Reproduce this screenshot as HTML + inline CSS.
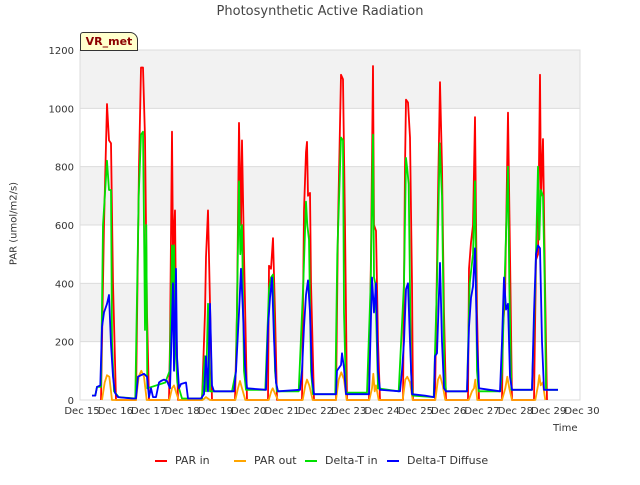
<!DOCTYPE html>
<html><head><meta charset="utf-8"><style>
body{margin:0;background:#fff;font-family:"Liberation Sans","DejaVu Sans",sans-serif}
svg text{font-family:"DejaVu Sans","Liberation Sans",sans-serif}
</style></head><body>
<svg id="c" width="640" height="480" xmlns="http://www.w3.org/2000/svg"></svg>
<script>
const yTicks=[0,200,400,600,800,1000,1200];
const xTickDays=[15,16,17,18,19,20,21,22,23,24,25,26,27,28,29,30];
const xTickLabels=["Dec 15","Dec 16","Dec 17","Dec 18","Dec 19","Dec 20","Dec 21","Dec 22","Dec 23","Dec 24","Dec 25","Dec 26","Dec 27","Dec 28","Dec 29","Dec 30"];
const parIn=[[15.57,0],[15.66,600],[15.75,1015],[15.81,890],[15.87,880],[15.93,400],[16.02,0],[16.62,0],[16.71,800],[16.77,1140],[16.83,1140],[16.89,900],[16.95,300],[17.01,0],[17.61,0],[17.64,200],[17.70,920],[17.73,500],[17.79,650],[17.82,300],[17.88,0],[18.60,0],[18.69,300],[18.72,490],[18.78,650],[18.84,330],[18.90,0],[19.59,0],[19.65,300],[19.71,950],[19.77,600],[19.80,890],[19.86,500],[19.95,0],[20.58,0],[20.61,460],[20.67,450],[20.73,555],[20.79,300],[20.85,0],[21.60,0],[21.66,650],[21.72,850],[21.75,885],[21.78,700],[21.84,710],[21.87,400],[21.96,0],[22.62,0],[22.68,600],[22.77,1115],[22.83,1100],[22.89,600],[22.95,0],[23.61,0],[23.67,500],[23.73,1145],[23.76,600],[23.82,580],[23.88,200],[23.94,0],[24.63,0],[24.69,800],[24.72,1030],[24.78,1020],[24.84,900],[24.90,400],[24.93,0],[25.59,0],[25.68,700],[25.74,1090],[25.80,800],[25.86,300],[25.92,0],[26.58,0],[26.61,450],[26.67,540],[26.73,600],[26.79,970],[26.85,300],[26.91,0],[27.60,0],[27.63,250],[27.69,350],[27.78,985],[27.84,500],[27.90,0],[28.56,0],[28.62,480],[28.68,500],[28.74,1115],[28.77,700],[28.83,895],[28.89,400],[28.95,0]];
const parOut=[[15.6,0],[15.68,60],[15.75,85],[15.82,80],[15.9,0],[16.62,0],[16.7,80],[16.78,100],[16.86,80],[16.94,0],[17.62,0],[17.7,40],[17.76,50],[17.84,20],[17.9,0],[18.62,0],[18.72,10],[18.84,0],[19.6,0],[19.68,40],[19.74,65],[19.8,40],[19.9,0],[20.6,0],[20.68,30],[20.72,40],[20.8,20],[20.88,0],[21.62,0],[21.7,50],[21.75,70],[21.82,50],[21.92,0],[22.62,0],[22.7,70],[22.78,95],[22.86,70],[22.94,0],[23.62,0],[23.7,40],[23.74,90],[23.78,30],[23.82,50],[23.9,0],[24.62,0],[24.7,70],[24.76,80],[24.84,60],[24.92,0],[25.6,0],[25.68,70],[25.74,85],[25.82,50],[25.9,0],[26.6,0],[26.7,30],[26.76,40],[26.8,70],[26.86,0],[27.6,0],[27.7,40],[27.76,80],[27.82,40],[27.9,0],[28.6,0],[28.68,50],[28.72,85],[28.76,50],[28.82,60],[28.9,0]];
const dtIn=[[15.3,15],[15.4,15],[15.45,45],[15.57,45],[15.63,600],[15.75,820],[15.81,720],[15.87,720],[15.9,200],[15.96,30],[16.1,10],[16.6,5],[16.7,700],[16.77,910],[16.83,920],[16.87,500],[16.89,240],[16.93,600],[16.96,40],[17.5,60],[17.63,100],[17.70,530],[17.73,300],[17.76,530],[17.8,200],[17.86,60],[18.0,5],[18.6,5],[18.68,150],[18.72,30],[18.78,330],[18.84,30],[19.5,30],[19.62,100],[19.71,750],[19.75,500],[19.8,600],[19.86,100],[19.92,35],[20.5,35],[20.61,380],[20.67,420],[20.73,430],[20.79,100],[20.85,30],[21.5,30],[21.64,400],[21.72,680],[21.76,600],[21.81,550],[21.87,100],[21.93,20],[22.6,20],[22.66,500],[22.77,900],[22.83,890],[22.86,300],[22.92,25],[23.55,25],[23.66,400],[23.73,910],[23.76,420],[23.8,400],[23.88,40],[24.5,30],[24.66,400],[24.72,830],[24.76,790],[24.8,740],[24.87,100],[24.92,15],[25.55,10],[25.65,400],[25.73,880],[25.8,700],[25.87,100],[25.92,30],[26.55,30],[26.63,400],[26.73,500],[26.79,750],[26.85,100],[26.9,30],[27.55,30],[27.6,100],[27.69,450],[27.78,800],[27.82,400],[27.88,35],[28.5,35],[28.6,400],[28.68,800],[28.72,550],[28.76,720],[28.83,700],[28.88,400],[28.92,35],[29.28,35]];
const dtDiff=[[15.3,15],[15.4,15],[15.45,45],[15.55,50],[15.6,250],[15.66,300],[15.75,330],[15.81,360],[15.87,190],[15.93,80],[15.99,25],[16.08,10],[16.5,5],[16.62,5],[16.68,80],[16.77,85],[16.86,90],[16.95,80],[17.01,10],[17.07,40],[17.13,10],[17.22,10],[17.31,60],[17.37,65],[17.46,70],[17.55,65],[17.64,40],[17.67,150],[17.73,400],[17.76,100],[17.82,450],[17.85,150],[17.91,40],[17.97,55],[18.12,60],[18.18,5],[18.57,5],[18.66,20],[18.72,150],[18.78,30],[18.84,330],[18.9,50],[18.96,30],[19.56,30],[19.62,100],[19.71,300],[19.77,450],[19.83,300],[19.89,120],[19.95,40],[20.52,35],[20.58,250],[20.64,350],[20.7,420],[20.76,210],[20.82,60],[20.88,30],[21.54,35],[21.6,100],[21.66,250],[21.72,360],[21.78,410],[21.84,300],[21.9,80],[21.96,20],[22.62,20],[22.65,100],[22.71,110],[22.77,120],[22.8,160],[22.86,110],[22.92,20],[23.61,20],[23.64,150],[23.7,420],[23.76,300],[23.82,400],[23.88,100],[23.94,35],[24.54,30],[24.6,100],[24.66,200],[24.72,380],[24.78,400],[24.84,200],[24.9,20],[25.29,15],[25.56,10],[25.59,150],[25.65,160],[25.74,470],[25.8,200],[25.86,40],[25.92,30],[26.55,30],[26.61,250],[26.67,350],[26.73,390],[26.79,520],[26.85,200],[26.91,40],[27.54,30],[27.6,200],[27.66,420],[27.72,310],[27.78,330],[27.84,80],[27.9,35],[28.5,35],[28.56,300],[28.62,500],[28.68,530],[28.74,520],[28.8,200],[28.86,35],[29.28,35]];

const NS="http://www.w3.org/2000/svg";
const svg=document.getElementById('c');
const L=80,R=580,T=50,B=400;
const xs=d=>82+(d-15)*(500/15);
const ys=v=>B-(v/1200)*(B-T);
function mk(tag,attrs,parent){const e=document.createElementNS(NS,tag);for(const k in attrs)e.setAttribute(k,attrs[k]);(parent||svg).appendChild(e);return e;}
for(let i=0;i<6;i++){
  const r=mk('rect',{x:L,y:ys((i+1)*200),width:R-L,height:ys(i*200)-ys((i+1)*200),fill:i%2?'#f2f2f2':'#ffffff'});
  
  
}
yTicks.forEach(v=>{
  const g=mk('line',{x1:L,x2:R,y1:ys(v),y2:ys(v),stroke:'#dcdcdc','stroke-width':1});
  
  
  const t=mk('text',{x:L-6,y:ys(v)+4,'text-anchor':'end','font-size':10,fill:'#333'});
  t.textContent=v;
  
  
});
const fr=mk('rect',{x:L,y:T,width:R-L,height:B-T,fill:'none',stroke:'#dcdcdc'});


xTickDays.forEach((d,i)=>{
  const t=mk('text',{x:xs(d),y:414,'text-anchor':'middle','font-size':10,fill:'#333'});
  t.textContent=xTickLabels[i];
  
  
});
function line(data,color,name){
  const p=mk('polyline',{points:data.map(d=>xs(d[0]).toFixed(1)+','+ys(d[1]).toFixed(1)).join(' '),fill:'none',stroke:color,'stroke-width':1.8,'stroke-linejoin':'round'});
  
  
}
line(parIn,'#ff0000','par-in-line');
line(parOut,'#ffa500','par-out-line');
line(dtIn,'#00e000','delta-t-in-line');
line(dtDiff,'#0000ff','delta-t-diffuse-line');
</script>
<div style="position:absolute;left:0;top:0;width:640px;height:480px;pointer-events:none">
  <div style="position:absolute;top:4px;width:640px;text-align:center;font-size:13px;color:#444;font-family:'DejaVu Sans',sans-serif">Photosynthetic Active Radiation</div>
  <div style="position:absolute;left:-36px;top:218px;width:100px;text-align:center;font-size:10px;color:#333;transform:rotate(-90deg);font-family:'DejaVu Sans',sans-serif">PAR (umol/m2/s)</div>
  <div style="position:absolute;left:553px;top:423px;font-size:10px;color:#333;font-family:'DejaVu Sans',sans-serif">Time</div>
  <div style="position:absolute;left:80px;top:32px;width:56px;height:17px;background:#ffffcc;border:1px solid #333;border-radius:3px 8px 0 0;font-size:11px;font-weight:bold;color:#8b0000;text-align:center;line-height:17px;font-family:'DejaVu Sans',sans-serif">VR_met</div>
  <div style="position:absolute;top:454px;left:0;width:640px;font-size:11px;color:#333;font-family:'DejaVu Sans',sans-serif">
    <span style="position:absolute;left:155px;white-space:nowrap"><span style="display:inline-block;width:12px;height:2px;background:#ff0000;vertical-align:middle;margin-right:8px"></span>PAR in</span>
    <span style="position:absolute;left:234px;white-space:nowrap"><span style="display:inline-block;width:12px;height:2px;background:#ffa500;vertical-align:middle;margin-right:8px"></span>PAR out</span>
    <span style="position:absolute;left:305px;white-space:nowrap"><span style="display:inline-block;width:12px;height:2px;background:#00e000;vertical-align:middle;margin-right:8px"></span>Delta-T in</span>
    <span style="position:absolute;left:387px;white-space:nowrap"><span style="display:inline-block;width:12px;height:2px;background:#0000ff;vertical-align:middle;margin-right:8px"></span>Delta-T Diffuse</span>
  </div>
</div>
</body></html>
